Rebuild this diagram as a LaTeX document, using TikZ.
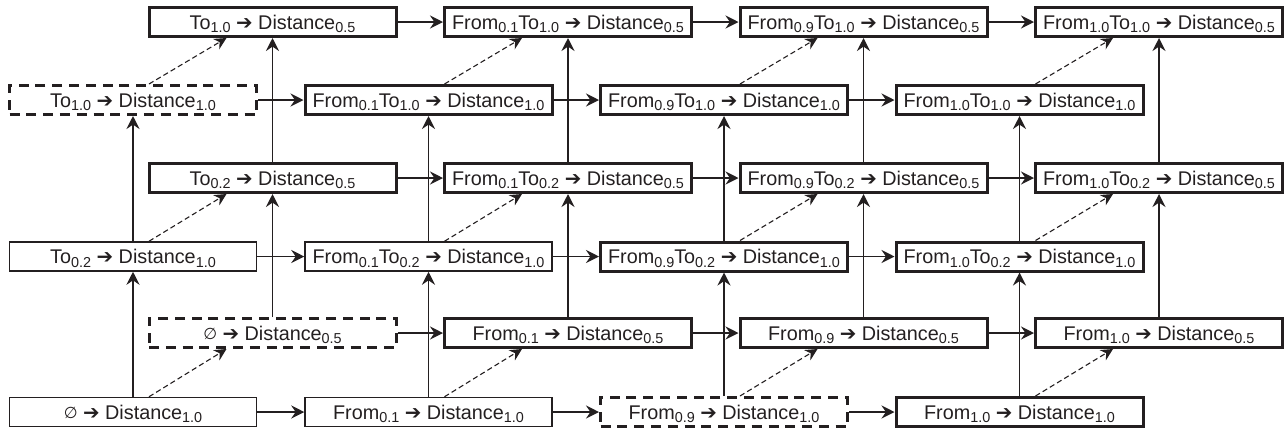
\documentclass[tikz,border=0pt]{standalone}
\usepackage{fontspec}
\setmainfont{Liberation Sans}
\newfontfamily\symfont{DejaVu Sans}
\usetikzlibrary{arrows.meta}
\definecolor{ink}{RGB}{35,31,32}
% lowered subscript in text size
\newcommand{\subx}[1]{\raisebox{-0.18em}{\fontsize{7.2}{8}\selectfont #1}}
\newcommand{\arr}{{\symfont ➔}}
\newcommand{\nullset}{\raisebox{0.05em}{\scalebox{0.8}{\symfont ∅}}}
\begin{document}
\begin{tikzpicture}[x=0.5pt,y=-0.5pt,
  box/.style={draw=ink, text=ink, minimum width=123.5pt, minimum height=14.5pt,
    inner sep=0pt, text height=1.0em, text depth=0.28em,
    font=\fontsize{9.9}{11}\selectfont},
  thickbox/.style={box, line width=1.5pt},
  thinbox/.style={box, line width=0.75pt},
  dashbox/.style={box, line width=1.5pt, dash pattern=on 5pt off 3.4pt},
  flow/.style={draw=ink, line width=0.75pt,
    -{Stealth[length=6.5pt,width=6.5pt,inset=2.2pt]}},
  dashflow/.style={draw=ink, line width=0.55pt, dash pattern=on 2.6pt off 1.6pt,
    -{Stealth[length=6pt,width=6pt,inset=2pt]}}]
\useasboundingbox (0,0) rectangle (1287,430);

% Distance 1.0 layer
\node[thinbox]  (lo-0-0) at (133,412)    {\nullset{} \arr{} Distance\subx{1.0}};
\node[thinbox]  (lo-1-0) at (428.5,412)  {From\subx{0.1} \arr{} Distance\subx{1.0}};
\node[dashbox]  (lo-2-0) at (724,412)    {From\subx{0.9} \arr{} Distance\subx{1.0}};
\node[thickbox] (lo-3-0) at (1019.5,412) {From\subx{1.0} \arr{} Distance\subx{1.0}};

\node[thinbox]  (lo-0-1) at (133,256.5)    {To\subx{0.2} \arr{} Distance\subx{1.0}};
\node[thinbox]  (lo-1-1) at (428.5,256.5)  {From\subx{0.1}To\subx{0.2} \arr{} Distance\subx{1.0}};
\node[thickbox] (lo-2-1) at (724,256.5)    {From\subx{0.9}To\subx{0.2} \arr{} Distance\subx{1.0}};
\node[thickbox] (lo-3-1) at (1019.5,256.5) {From\subx{1.0}To\subx{0.2} \arr{} Distance\subx{1.0}};

\node[dashbox]  (lo-0-2) at (133,100)    {To\subx{1.0} \arr{} Distance\subx{1.0}};
\node[thickbox] (lo-1-2) at (428.5,100)  {From\subx{0.1}To\subx{1.0} \arr{} Distance\subx{1.0}};
\node[thickbox] (lo-2-2) at (724,100)    {From\subx{0.9}To\subx{1.0} \arr{} Distance\subx{1.0}};
\node[thickbox] (lo-3-2) at (1019.5,100) {From\subx{1.0}To\subx{1.0} \arr{} Distance\subx{1.0}};

% Distance 0.5 layer
\node[dashbox]  (hi-0-0) at (272.5,333) {\nullset{} \arr{} Distance\subx{0.5}};
\node[thickbox] (hi-1-0) at (568,333)   {From\subx{0.1} \arr{} Distance\subx{0.5}};
\node[thickbox] (hi-2-0) at (863.5,333) {From\subx{0.9} \arr{} Distance\subx{0.5}};
\node[thickbox] (hi-3-0) at (1159,333)  {From\subx{1.0} \arr{} Distance\subx{0.5}};

\node[thickbox] (hi-0-1) at (272.5,178) {To\subx{0.2} \arr{} Distance\subx{0.5}};
\node[thickbox] (hi-1-1) at (568,178)   {From\subx{0.1}To\subx{0.2} \arr{} Distance\subx{0.5}};
\node[thickbox] (hi-2-1) at (863.5,178) {From\subx{0.9}To\subx{0.2} \arr{} Distance\subx{0.5}};
\node[thickbox] (hi-3-1) at (1159,178)  {From\subx{1.0}To\subx{0.2} \arr{} Distance\subx{0.5}};

\node[thickbox] (hi-0-2) at (272.5,22) {To\subx{1.0} \arr{} Distance\subx{0.5}};
\node[thickbox] (hi-1-2) at (568,22)   {From\subx{0.1}To\subx{1.0} \arr{} Distance\subx{0.5}};
\node[thickbox] (hi-2-2) at (863.5,22) {From\subx{0.9}To\subx{1.0} \arr{} Distance\subx{0.5}};
\node[thickbox] (hi-3-2) at (1159,22)  {From\subx{1.0}To\subx{1.0} \arr{} Distance\subx{0.5}};

% From steps (horizontal)
\foreach \l in {lo,hi}
  \foreach \j in {0,1,2}
    \foreach \i/\n in {0/1,1/2,2/3}
      \draw[flow] (\l-\i-\j.east) -- (\l-\n-\j.west);

% To steps (vertical)
\foreach \l in {lo,hi}
  \foreach \i in {0,1,2,3}
    \foreach \j/\n in {0/1,1/2}
      \draw[flow] (\l-\i-\j.north) -- (\l-\i-\n.south);

% Distance steps (diagonal, dashed)
\foreach \i in {0,1,2,3}
  \foreach \j in {0,1,2}
    \draw[dashflow] ([xshift=8pt]lo-\i-\j.north) -- ([xshift=-23pt]hi-\i-\j.south);
\end{tikzpicture}
\end{document}
